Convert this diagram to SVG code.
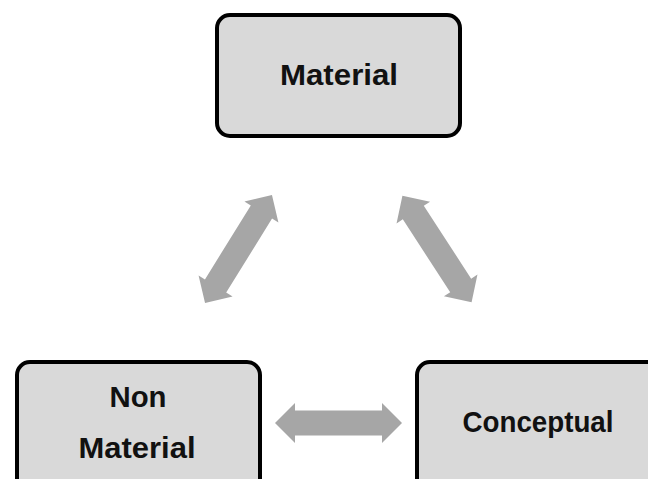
<svg xmlns="http://www.w3.org/2000/svg" width="648" height="479" viewBox="0 0 648 479">
  <style>
    .box { fill: #d9d9d9; stroke: #000; stroke-width: 4; }
    .label { font-family: "Liberation Sans", Arial, sans-serif; font-weight: bold; font-size: 30px; fill: #111; text-anchor: middle; }
    .link { fill: #a6a6a6; }
  </style>
  <defs>
    <!-- double-headed block arrow, centred on the origin, pointing along x -->
    <path id="dbl" d="M -63.5 0 L -43.5 -20 L -43.5 -12.5 L 43.5 -12.5 L 43.5 -20 L 63.5 0 L 43.5 20 L 43.5 12.5 L -43.5 12.5 L -43.5 20 Z"/>
  </defs>

  <g id="connectors">
    <use href="#dbl" class="link" transform="translate(238.5,249) rotate(-58.2)"/>
    <use href="#dbl" class="link" transform="translate(437,249) rotate(57)"/>
    <use href="#dbl" class="link" transform="translate(338.5,423)"/>
  </g>

  <g id="material">
    <rect class="box" x="217" y="15" width="243" height="121" rx="13"/>
    <text class="label" x="339" y="85" textLength="118" lengthAdjust="spacingAndGlyphs">Material</text>
  </g>

  <g id="non-material">
    <rect class="box" x="17" y="362" width="243" height="130" rx="13"/>
    <text class="label" x="138" y="407" textLength="57" lengthAdjust="spacingAndGlyphs">Non</text>
    <text class="label" x="137" y="458" textLength="117" lengthAdjust="spacingAndGlyphs">Material</text>
  </g>

  <g id="conceptual">
    <rect class="box" x="417" y="362" width="243" height="130" rx="13"/>
    <text class="label" x="538" y="432" textLength="151" lengthAdjust="spacingAndGlyphs">Conceptual</text>
  </g>
</svg>
